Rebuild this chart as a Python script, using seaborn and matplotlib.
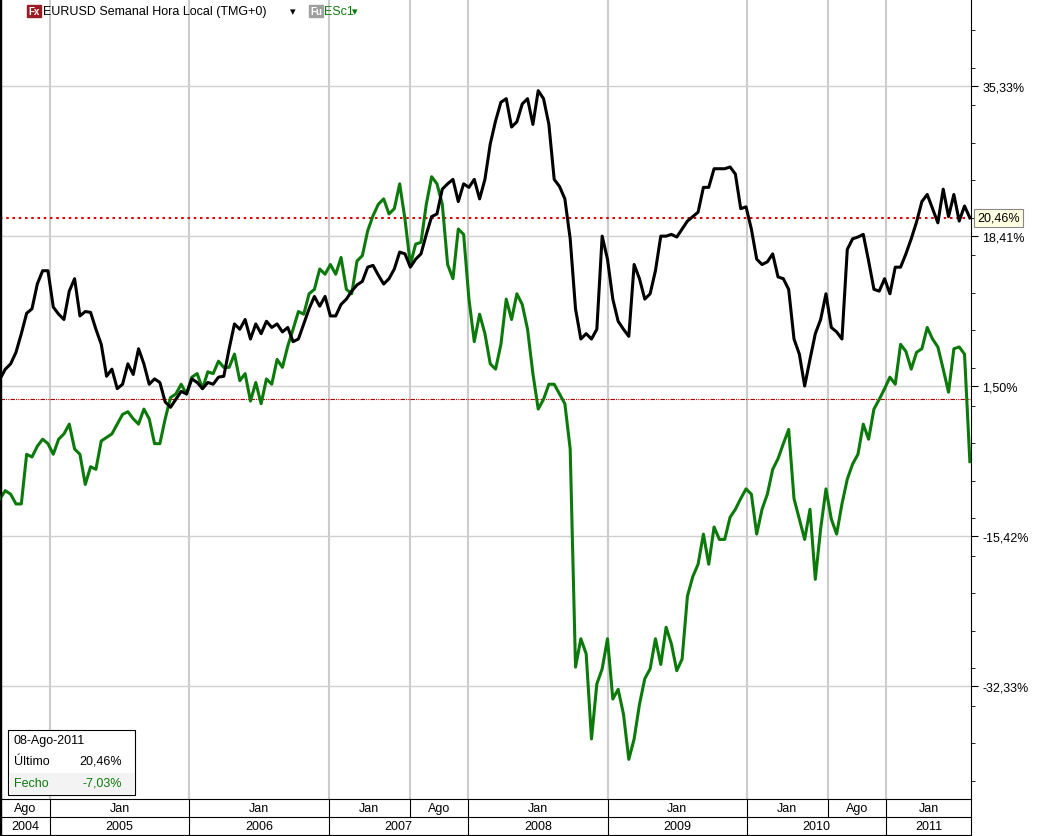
import numpy as np
import pandas as pd
import matplotlib
matplotlib.use("Agg")
import matplotlib.pyplot as plt
import matplotlib.dates as mdates
import matplotlib.transforms as mtrans
from matplotlib.patches import Rectangle
import seaborn as sns

plt.rcParams["font.family"] = "Liberation Sans"

eurusd = [2.3,3.4,4.0,5.3,7.4,9.7,10.2,13.0,14.5,14.5,10.4,9.6,9.0,12.2,13.6,9.4,9.9,9.8,7.9,6.2,
 2.6,3.4,1.2,1.7,4.0,2.8,5.7,4.0,1.7,2.3,1.9,-0.3,-0.9,0.0,0.9,0.6,2.3,1.9,1.2,1.9,
 1.7,2.5,2.6,5.7,8.5,7.9,9.0,6.8,8.5,7.4,8.8,8.1,8.5,7.6,8.1,6.5,6.8,8.5,10.2,11.6,
 10.5,11.6,9.4,9.4,10.7,11.3,12.2,12.9,13.3,14.9,15.1,14.0,13.0,13.6,14.7,16.6,16.4,14.9,15.8,16.4,
 18.6,20.6,20.9,23.7,24.3,24.8,22.3,24.3,23.9,24.8,22.6,24.8,28.8,31.4,33.5,33.9,30.7,31.3,33.3,33.9,
 31.0,34.8,33.9,31.0,24.8,24.0,22.6,18.1,10.2,6.8,7.4,6.8,7.9,18.4,15.8,11.3,8.8,7.9,7.1,15.2,
 13.6,11.3,11.9,14.5,18.4,18.4,18.6,18.3,19.2,20.1,20.6,21.1,23.9,23.9,26.0,26.0,26.0,26.2,25.4,21.5,
 21.7,19.2,15.8,15.2,15.5,16.4,13.8,13.6,12.4,6.8,5.1,1.5,4.5,7.4,9.0,11.9,8.1,7.6,6.8,16.9,
 18.1,18.3,18.6,15.6,12.4,12.2,13.6,11.9,14.9,14.9,16.4,18.1,20.0,22.3,23.1,21.5,19.9,23.7,20.6,23.1,
 20.1,21.8,20.46]

esc1 = [-11.2,-10.3,-10.7,-11.8,-11.8,-6.2,-6.5,-5.3,-4.5,-5.0,-6.2,-4.5,-3.9,-2.8,-5.6,-6.2,-9.6,-7.6,-7.9,-4.7,
 -4.3,-3.9,-2.8,-1.7,-1.4,-2.2,-2.8,-1.1,-2.2,-5.0,-5.0,-2.2,0.2,0.6,1.7,0.6,2.5,2.9,1.2,3.1,
 2.9,4.3,3.6,3.6,5.1,2.1,2.9,-0.2,1.9,-0.5,2.3,1.7,4.5,3.6,6.0,7.9,9.9,9.6,11.9,12.4,
 14.7,14.1,15.2,14.1,16.0,12.4,11.9,15.6,16.2,19.0,20.7,22.0,22.6,20.9,21.5,24.3,20.3,15.2,17.5,17.7,
 22.0,25.1,24.3,22.0,15.2,13.6,19.2,18.6,11.3,6.5,9.6,7.4,4.0,3.4,6.2,11.3,9.0,11.9,10.7,7.9,
 2.9,-1.1,0.0,1.7,1.7,0.6,-0.5,-5.6,-30.2,-27.0,-28.7,-38.3,-32.1,-30.4,-27.0,-33.8,-32.7,-35.5,-40.6,-38.3,
 -34.4,-31.5,-30.4,-27.0,-29.9,-25.7,-27.6,-30.6,-29.3,-22.2,-20.0,-18.6,-15.2,-18.6,-14.4,-15.8,-15.8,-13.3,-12.4,-11.2,
 -10.1,-10.7,-15.2,-12.4,-10.7,-7.9,-6.7,-5.0,-3.4,-11.2,-13.5,-15.8,-12.4,-20.3,-14.6,-10.1,-13.5,-15.2,-11.8,-9.0,
 -7.3,-6.2,-2.8,-4.5,-1.1,0.0,1.2,2.5,1.7,6.2,5.4,3.4,5.3,5.7,8.1,6.8,5.9,3.4,0.8,5.7,
 5.9,5.1,-7.03]

y_ticks = [35.33, 18.41, 1.50, -15.42, -32.33]
y_tick_labels = ["35,33%", "18,41%", "1,50%", "-15,42%", "-32,33%"]
last_value = 20.46
last_label = "20,46%"

start, end = pd.Timestamp("2004-08-23"), pd.Timestamp("2011-08-08")
n = min(len(eurusd), len(esc1))
eurusd, esc1 = eurusd[:n], esc1[:n]
dates = pd.to_datetime(np.linspace(start.value, end.value, n))
df = pd.DataFrame({"date": list(dates) * 2,
                   "value": eurusd + esc1,
                   "serie": ["EURUSD"] * n + ["ESc1"] * n})

W, H = 1041, 837
fig = plt.figure(figsize=(W / 100, H / 100), dpi=100)
ax = fig.add_axes([0, 37 / H, 971 / W, 800 / H])
xmin, xmax = pd.Timestamp("2004-08-23"), pd.Timestamp("2011-08-11")
ax.set_xlim(xmin, xmax)
ax.set_ylim(-45.07, 45.14)

bounds = [pd.Timestamp(s) for s in ["2005-01-01", "2006-01-01", "2007-01-01", "2007-08-01",
                                    "2008-01-01", "2009-01-01", "2010-01-01", "2010-08-01", "2011-01-01"]]
for b in bounds:
    ax.axvline(b, color="#cccccc", lw=1.5, zorder=0)
for t in y_ticks:
    ax.axhline(t, color="#d0d0d0", lw=1, zorder=0)
ax.axhline(last_value, color="#dd0000", lw=1.5, ls=(0, (1.2, 1.8)), zorder=1)
ax.axhline(0, color="#aa0000", lw=0.8, ls=(0, (4, 1, 1, 1, 1, 1)), zorder=1)

sns.lineplot(data=df, x="date", y="value", hue="serie", palette={"EURUSD": "black", "ESc1": "#0b7a0b"},
             hue_order=["ESc1", "EURUSD"], lw=2.2, legend=False, ax=ax, zorder=3)

ax.set_xlabel(""); ax.set_ylabel("")
ax.yaxis.tick_right()
ax.set_yticks(y_ticks)
ax.set_yticklabels(y_tick_labels, fontsize=9)
ax.set_yticks(np.arange(-43, 45, 4.23), minor=True)
ax.tick_params(axis="y", which="major", length=5, pad=3)
ax.tick_params(axis="y", which="minor", length=3)
ax.set_xticks([])
ax.spines["top"].set_visible(False)

ax.text(1.006, (last_value + 45.07) / 90.21, last_label, transform=ax.transAxes, fontsize=9,
        va="center", ha="left", bbox=dict(boxstyle="square,pad=0.25", fc="#ffffe1", ec="#888888", lw=0.8))

num = lambda d: mdates.date2num(d)
tr = mtrans.blended_transform_factory(ax.transData, fig.transFigure)
row1_top, row1_bot, row2_bot = 37 / H, 19 / H, 1 / H
edges_m = [xmin] + bounds + [xmax]
months = ["Ago", "Jan", "Jan", "Jan", "Ago", "Jan", "Jan", "Jan", "Ago", "Jan"]
for a, b, m in zip(edges_m[:-1], edges_m[1:], months):
    fig.text((num(a) + num(b)) / 2, (row1_top + row1_bot) / 2, m, transform=tr, ha="center", va="center",
             fontsize=9)
for e in edges_m:
    fig.add_artist(plt.Line2D([num(e), num(e)], [row1_bot, row1_top], transform=tr, color="black", lw=0.8))
ybounds = [pd.Timestamp(s) for s in ["2005-01-01", "2006-01-01", "2007-01-01", "2008-01-01",
                                     "2009-01-01", "2010-01-01", "2011-01-01"]]
edges_y = [xmin] + ybounds + [xmax]
years = ["2004", "2005", "2006", "2007", "2008", "2009", "2010", "2011"]
for a, b, yl in zip(edges_y[:-1], edges_y[1:], years):
    fig.text((num(a) + num(b)) / 2, (row1_bot + row2_bot) / 2, yl, transform=tr, ha="center", va="center",
             fontsize=9)
for e in edges_y:
    fig.add_artist(plt.Line2D([num(e), num(e)], [row2_bot, row1_bot], transform=tr, color="black", lw=0.8))
for yy in [row1_bot, row2_bot]:
    fig.add_artist(plt.Line2D([0, 971 / W], [yy, yy], transform=fig.transFigure, color="black", lw=0.8))
fig.add_artist(plt.Line2D([0.5 / W, 0.5 / W], [0, 1], transform=fig.transFigure, color="black", lw=1))

fig.text(28 / W, 1 - 12 / H, "Fx", fontsize=7, color="white", va="center", ha="left", fontweight="bold",
         bbox=dict(boxstyle="square,pad=0.15", fc="#9b1c22", ec="#9b1c22"))
fig.text(43 / W, 1 - 12 / H, "EURUSD Semanal Hora Local (TMG+0)", fontsize=9, va="center", ha="left")
fig.text(290 / W, 1 - 12 / H, "▾", fontsize=8, va="center", ha="left", family="DejaVu Sans")
fig.text(310 / W, 1 - 12 / H, "Fu", fontsize=7, color="white", va="center", ha="left", fontweight="bold",
         bbox=dict(boxstyle="square,pad=0.15", fc="#a0a0a0", ec="#a0a0a0"))
fig.text(324 / W, 1 - 12 / H, "ESc1", fontsize=9, color="#0b7a0b", va="center", ha="left")
fig.text(352 / W, 1 - 12 / H, "▾", fontsize=8, color="#0b7a0b", va="center", ha="left", family="DejaVu Sans")

fig.add_artist(Rectangle((8 / W, 1 - 796 / H), 127 / W, 65 / H, transform=fig.transFigure,
                         fc="white", ec="black", lw=0.8, zorder=5))
fig.add_artist(Rectangle((9 / W, 1 - 795 / H), 125 / W, 21 / H, transform=fig.transFigure,
                         fc="#f3f3f3", ec="none", zorder=5))
fig.text(14 / W, 1 - 741 / H, "08-Ago-2011", fontsize=9, va="center", zorder=6)
fig.text(14 / W, 1 - 762 / H, "Último", fontsize=9, va="center", zorder=6)
fig.text(122 / W, 1 - 762 / H, "20,46%", fontsize=9, va="center", ha="right", zorder=6)
fig.text(14 / W, 1 - 784 / H, "Fecho", fontsize=9, va="center", color="#0b7a0b", zorder=6)
fig.text(122 / W, 1 - 784 / H, "-7,03%", fontsize=9, va="center", ha="right", color="#0b7a0b", zorder=6)

fig.savefig("out.png", dpi=100)
